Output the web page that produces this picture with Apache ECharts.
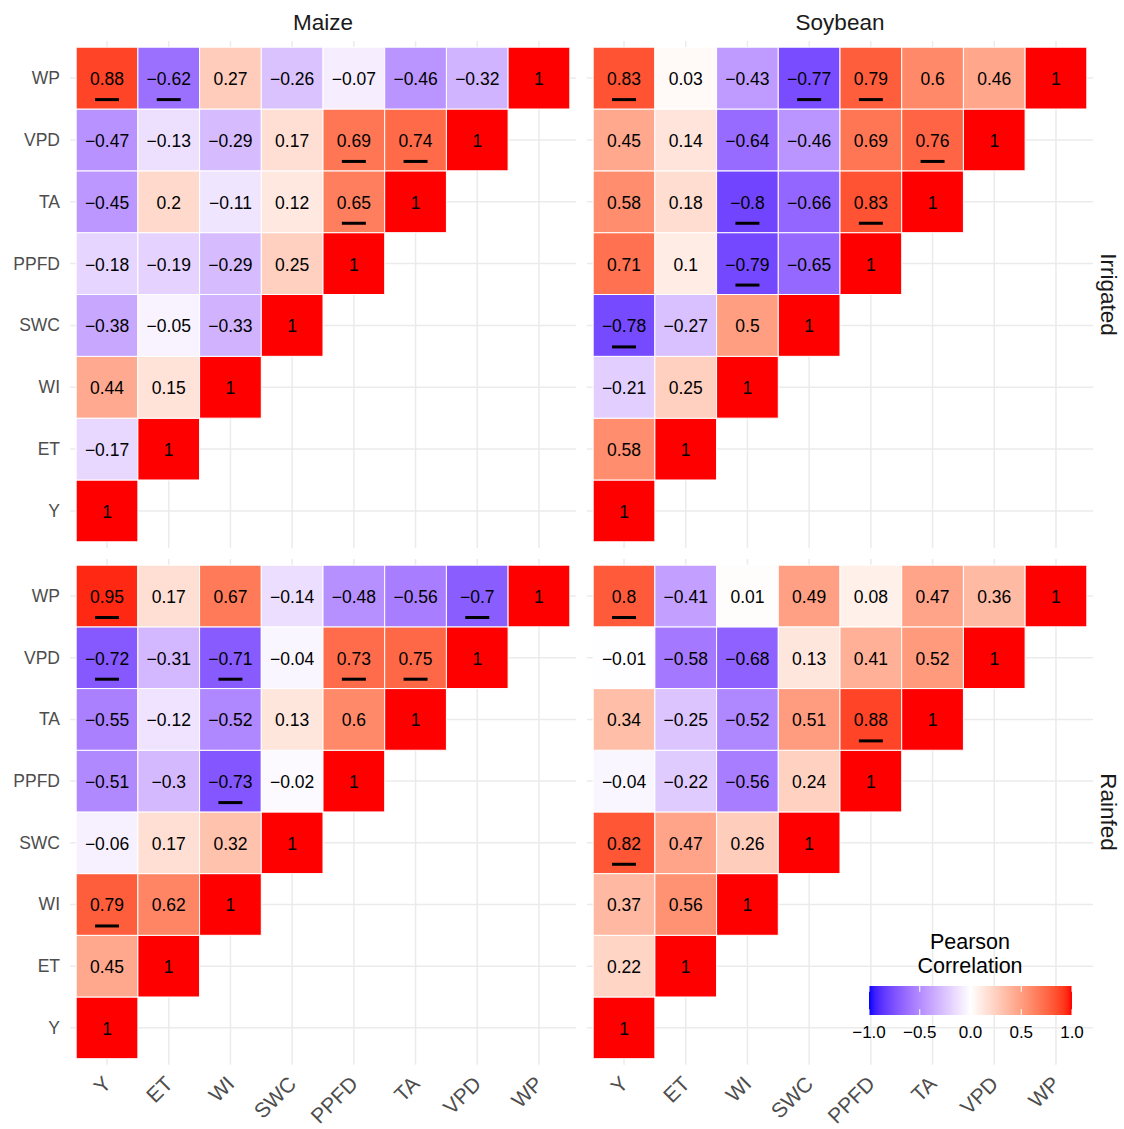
<!DOCTYPE html>
<html><head><meta charset="utf-8">
<script src="https://cdn.jsdelivr.net/npm/echarts@6/dist/echarts.min.js"></script>
<style>html,body{margin:0;padding:0;background:#fff}#c{width:1124px;height:1129px}</style>
</head><body><div id="c"></div>
<script>
// ---------------- DATA ----------------
const vars = ['Y','ET','WI','SWC','PPFD','TA','VPD','WP'];
const crops = ['Maize','Soybean'];
const regimes = ['Irrigated','Rainfed'];
const legendTitle = ['Pearson','Correlation'];
const legendTicks = [-1.0,-0.5,0.0,0.5,1.0];

// Lower-triangle rows: row i = correlations of vars[i] with vars[0..i]
const maizeIrrigated = [
  [1],
  [-0.17,1],
  [0.44,0.15,1],
  [-0.38,-0.05,-0.33,1],
  [-0.18,-0.19,-0.29,0.25,1],
  [-0.45,0.2,-0.11,0.12,0.65,1],
  [-0.47,-0.13,-0.29,0.17,0.69,0.74,1],
  [0.88,-0.62,0.27,-0.26,-0.07,-0.46,-0.32,1]
];
const soybeanIrrigated = [
  [1],
  [0.58,1],
  [-0.21,0.25,1],
  [-0.78,-0.27,0.5,1],
  [0.71,0.1,-0.79,-0.65,1],
  [0.58,0.18,-0.8,-0.66,0.83,1],
  [0.45,0.14,-0.64,-0.46,0.69,0.76,1],
  [0.83,0.03,-0.43,-0.77,0.79,0.6,0.46,1]
];
const maizeRainfed = [
  [1],
  [0.45,1],
  [0.79,0.62,1],
  [-0.06,0.17,0.32,1],
  [-0.51,-0.3,-0.73,-0.02,1],
  [-0.55,-0.12,-0.52,0.13,0.6,1],
  [-0.72,-0.31,-0.71,-0.04,0.73,0.75,1],
  [0.95,0.17,0.67,-0.14,-0.48,-0.56,-0.7,1]
];
const soybeanRainfed = [
  [1],
  [0.22,1],
  [0.37,0.56,1],
  [0.82,0.47,0.26,1],
  [-0.04,-0.22,-0.56,0.24,1],
  [0.34,-0.25,-0.52,0.51,0.88,1],
  [-0.01,-0.58,-0.68,0.13,0.41,0.52,1],
  [0.8,-0.41,0.01,0.49,0.08,0.47,0.36,1]
];
// significant pairs [rowVarIndex, colVarIndex] (underlined)
const maizeIrrigatedSig = [[7,0],[7,1],[6,4],[6,5],[5,4]];
const soybeanIrrigatedSig = [[7,0],[7,3],[7,4],[6,5],[5,2],[5,4],[4,2],[3,0]];
const maizeRainfedSig = [[7,0],[7,6],[6,0],[6,2],[6,4],[6,5],[4,2],[2,0]];
const soybeanRainfedSig = [[7,0],[5,4],[3,0]];

const panels = [
  {crop:0, regime:0, mat:maizeIrrigated, sig:maizeIrrigatedSig},
  {crop:1, regime:0, mat:soybeanIrrigated, sig:soybeanIrrigatedSig},
  {crop:0, regime:1, mat:maizeRainfed, sig:maizeRainfedSig},
  {crop:1, regime:1, mat:soybeanRainfed, sig:soybeanRainfedSig}
];

// ---------------- COLOUR (Lab interpolation like ggplot gradient2) ----------------
function lin(c){c/=255;return c<=0.04045?c/12.92:Math.pow((c+0.055)/1.055,2.4);}
function unlin(c){const v=c<=0.0031308?12.92*c:1.055*Math.pow(c,1/2.4)-0.055;return Math.round(Math.max(0,Math.min(1,v))*255);}
const Xn=0.95047,Yn=1,Zn=1.08883;
function f(t){return t>0.008856?Math.cbrt(t):7.787*t+16/116;}
function finv(t){return t>0.206893?t*t*t:(t-16/116)/7.787;}
function rgb2lab(rgb){
  const R=lin(rgb[0]),G=lin(rgb[1]),B=lin(rgb[2]);
  const X=0.4124564*R+0.3575761*G+0.1804375*B;
  const Y=0.2126729*R+0.7151522*G+0.0721750*B;
  const Z=0.0193339*R+0.1191920*G+0.9503041*B;
  const fx=f(X/Xn),fy=f(Y/Yn),fz=f(Z/Zn);
  return [116*fy-16,500*(fx-fy),200*(fy-fz)];
}
function lab2rgb(lab){
  const fy=(lab[0]+16)/116,fx=fy+lab[1]/500,fz=fy-lab[2]/200;
  const X=Xn*finv(fx),Y=Yn*finv(fy),Z=Zn*finv(fz);
  const R= 3.2404542*X-1.5371385*Y-0.4985314*Z;
  const G=-0.9692660*X+1.8760108*Y+0.0415560*Z;
  const B= 0.0556434*X-0.2040259*Y+1.0572252*Z;
  return 'rgb('+unlin(R)+','+unlin(G)+','+unlin(B)+')';
}
const LAB_LOW=rgb2lab([0,0,255]),LAB_MID=rgb2lab([255,255,255]),LAB_HIGH=rgb2lab([255,0,0]);
function corrColor(v){
  v=Math.max(-1,Math.min(1,v));
  const end=v>=0?LAB_HIGH:LAB_LOW, t=Math.abs(v);
  return lab2rgb([0,1,2].map(k=>LAB_MID[k]+(end[k]-LAB_MID[k])*t));
}
function fmt(v){return String(v).replace('-','\u2212');}

// ---------------- LAYOUT ----------------
const FONT='"Liberation Sans", Arial, Helvetica, sans-serif';
const gridPos = [
  {left:70, top:41, width:506, height:507},
  {left:587, top:41, width:506, height:507},
  {left:70, top:559, width:506, height:506},
  {left:587, top:559, width:506, height:506}
];
const idx = vars.map((_,i)=>i);

const grids=[], xAxes=[], yAxes=[], series=[];
panels.forEach((p,g)=>{
  grids.push(Object.assign({containLabel:false}, gridPos[g]));
  xAxes.push({type:'value', gridIndex:g, min:-0.6, max:7.6, z:10,
    axisLine:{show:false}, axisTick:{show:false}, splitLine:{show:false},
    axisLabel:{show:p.regime===1, customValues:idx, formatter:v=>vars[Math.round(v)],
      rotate:45, margin:15, fontSize:21, color:'#4d4d4d', fontFamily:FONT}});
  yAxes.push({type:'value', gridIndex:g, min:-0.6, max:7.6, z:10,
    axisLine:{show:false}, axisTick:{show:false}, splitLine:{show:false},
    axisLabel:{show:p.crop===0, customValues:idx, formatter:v=>vars[Math.round(v)],
      margin:10, fontSize:17.5, color:'#4d4d4d', fontFamily:FONT}});
  // grid lines
  series.push({type:'custom', xAxisIndex:g, yAxisIndex:g, z:1, silent:true,
    data:idx.map(i=>[i]),
    renderItem:(params,api)=>{
      const i=api.value(0);
      const a=api.coord([i,-0.6]), b=api.coord([i,7.6]);
      const c=api.coord([-0.6,i]), d=api.coord([7.6,i]);
      return {type:'group',children:[
        {type:'line',shape:{x1:a[0],y1:a[1],x2:b[0],y2:b[1]},style:{stroke:'#ebebeb',lineWidth:1.5}},
        {type:'line',shape:{x1:c[0],y1:c[1],x2:d[0],y2:d[1]},style:{stroke:'#ebebeb',lineWidth:1.5}}
      ]};
    }});
  // tiles
  const data=[];
  p.mat.forEach((row,i)=>row.forEach((v,j)=>data.push([j,i,v])));
  series.push({type:'custom', xAxisIndex:g, yAxisIndex:g, z:3, silent:true, data:data,
    renderItem:(params,api)=>{
      const x=api.value(0),y=api.value(1),v=api.value(2);
      const p0=api.coord([x-0.5,y+0.5]), p1=api.coord([x+0.5,y-0.5]);
      return {type:'group',children:[
        {type:'rect',shape:{x:p0[0],y:p0[1],width:p1[0]-p0[0],height:p1[1]-p0[1]},
          style:{fill:corrColor(v),stroke:'#ffffff',lineWidth:1}},
        {type:'text',x:(p0[0]+p1[0])/2,y:(p0[1]+p1[1])/2+1,
          style:{text:fmt(v),fill:'#000',fontSize:17.5,fontFamily:FONT,align:'center',verticalAlign:'middle'}}
      ]};
    }});
  // significance underlines
  series.push({type:'custom', xAxisIndex:g, yAxisIndex:g, z:4, silent:true,
    data:p.sig.map(s=>[s[1],s[0]]),
    renderItem:(params,api)=>{
      const c=api.coord([api.value(0),api.value(1)]);
      return {type:'rect',shape:{x:c[0]-12,y:c[1]+20,width:24,height:3},style:{fill:'#000'}};
    }});
});

// legend grid (colour bar)
const LG = 4;
grids.push({left:869, top:986, width:203, height:29});
xAxes.push({type:'value', gridIndex:LG, min:-1, max:1, interval:0.5, z:20,
  axisLine:{show:false}, axisTick:{show:false}, splitLine:{show:false},
  axisLabel:{margin:9, fontSize:17, color:'#000', fontFamily:FONT, formatter:v=>fmt(v.toFixed(1))}});
yAxes.push({type:'value', gridIndex:LG, min:0, max:1, show:false});
const stops=[];
for(let k=0;k<=40;k++){const v=-1+k/20;stops.push({offset:k/40,color:corrColor(v)});}
series.push({type:'custom', xAxisIndex:LG, yAxisIndex:LG, z:6, silent:true, data:[[0]],
  renderItem:(params,api)=>{
    const a=api.coord([-1,1]), b=api.coord([1,0]);
    return {type:'rect',shape:{x:a[0],y:a[1],width:b[0]-a[0],height:b[1]-a[1]},
      style:{fill:{type:'linear',x:0,y:0,x2:1,y2:0,colorStops:stops}}};
  }});
series.push({type:'custom', xAxisIndex:LG, yAxisIndex:LG, z:7, silent:true,
  data:legendTicks.map(t=>[t]),
  renderItem:(params,api)=>{
    const t=api.coord([api.value(0),1]), bt=api.coord([api.value(0),0]);
    const len=(bt[1]-t[1])/5;
    return {type:'group',children:[
      {type:'line',shape:{x1:t[0],y1:t[1],x2:t[0],y2:t[1]+len},style:{stroke:'#fff',lineWidth:1}},
      {type:'line',shape:{x1:bt[0],y1:bt[1]-len,x2:bt[0],y2:bt[1]},style:{stroke:'#fff',lineWidth:1}}
    ]};
  }});

// strips & legend title
const graphics=[];
crops.forEach((c,i)=>{
  const gp=gridPos[i];
  graphics.push({type:'text',z:50,x:gp.left+gp.width/2,y:22,
    style:{text:c,fontSize:22.5,fontFamily:FONT,fill:'#1a1a1a',align:'center',verticalAlign:'middle'}});
});
regimes.forEach((r,i)=>{
  const gp=gridPos[i*2];
  graphics.push({type:'text',z:50,x:1108,y:gp.top+gp.height/2,rotation:-Math.PI/2,
    style:{text:r,fontSize:22.5,fontFamily:FONT,fill:'#1a1a1a',align:'center',verticalAlign:'middle'}});
});
legendTitle.forEach((t,i)=>{
  graphics.push({type:'text',z:50,x:970,y:942+i*24,
    style:{text:t,fontSize:21.5,fontFamily:FONT,fill:'#000',align:'center',verticalAlign:'middle'}});
});

const chart=echarts.init(document.getElementById('c'),null,{renderer:'svg'});
chart.setOption({
  backgroundColor:'#ffffff',
  animation:false,
  grid:grids, xAxis:xAxes, yAxis:yAxes, series:series,
  graphic:graphics
});
</script></body></html>
